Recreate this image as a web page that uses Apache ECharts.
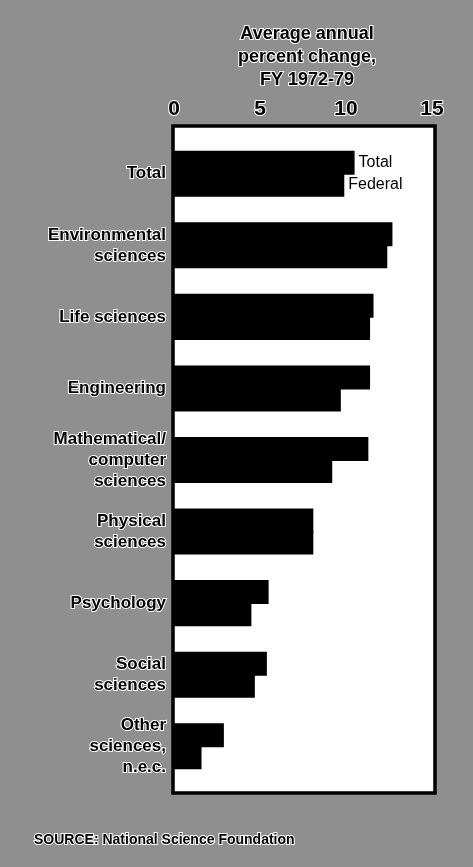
<!DOCTYPE html>
<html>
<head>
<meta charset="utf-8">
<title>R&D growth by field, FY 1972-79</title>
<script src="https://cdn.jsdelivr.net/npm/echarts@6/dist/echarts.min.js"></script>
<style>
  html, body { margin: 0; padding: 0; background: #8f8f8f; }
  #chart { width: 473px; height: 867px; }
</style>
</head>
<body>
<div id="chart"></div>
<script>
// 各领域 1972-79 年均变化率（%）
const fields = [
  'Total',
  'Environmental\nsciences',
  'Life sciences',
  'Engineering',
  'Mathematical/\ncomputer\nsciences',
  'Physical\nsciences',
  'Psychology',
  'Social\nsciences',
  'Other\nsciences,\nn.e.c.'
];
const totalChange = [10.5, 12.7, 11.6, 11.4, 11.3, 8.1, 5.5, 5.4, 2.9];
const federalChange = [9.9, 12.4, 11.4, 9.7, 9.2, 8.1, 4.5, 4.7, 1.6];
const xTicks = [0, 5, 10, 15];

const font = '"Liberation Sans", Arial, sans-serif';

const chart = echarts.init(document.getElementById('chart'));

// 只在第一组柱子旁边标注系列名
const withFirstLabel = (values) => values.map((v, i) => i === 0
  ? { value: v, label: { show: true } }
  : v);

const barSeries = (name, values) => ({
  name,
  type: 'bar',
  data: withFirstLabel(values),
  barWidth: 24,
  barGap: '-8%', // 两根柱子贴在一起，避免中间出现细缝
  z: 2,
  itemStyle: { color: '#000' },
  label: {
    show: false,
    position: 'right',
    distance: 4,
    formatter: '{a}',
    fontFamily: font,
    fontSize: 16,
    color: '#000'
  }
});

const option = {
  backgroundColor: '#8f8f8f',
  animation: false,
  textStyle: { fontFamily: font },
  title: {
    text: 'Average annual\npercent change,\nFY 1972-79',
    left: 302,
    top: 18,
    textAlign: 'center',
    textStyle: {
      fontFamily: font,
      fontSize: 18,
      fontWeight: 900,
      lineHeight: 23,
      color: '#000',
      textBorderColor: '#fff',
      textBorderWidth: 2
    }
  },
  graphic: [
    {
      type: 'rect',
      z: 0,
      shape: { x: 173, y: 126, width: 262, height: 667 },
      style: { fill: '#fff', stroke: '#000', lineWidth: 3.5 }
    },
    {
      type: 'text',
      left: 33,
      top: 832,
      style: {
        text: 'SOURCE: National Science Foundation',
        font: '900 14px ' + font,
        fill: '#000',
        stroke: '#fff',
        lineWidth: 2
      }
    }
  ],
  grid: {
    left: 174,
    width: 258,
    top: 138,
    bottom: 85,
    containLabel: false
  },
  xAxis: {
    type: 'value',
    position: 'top',
    min: 0,
    max: 15,
    interval: 5,
    axisLine: { show: false },
    axisTick: { show: false },
    splitLine: { show: false },
    axisLabel: {
      margin: 18,
      fontFamily: font,
      fontSize: 21,
      fontWeight: 'bold',
      color: '#000',
      textBorderColor: '#fff',
      textBorderWidth: 2,
      formatter: (v) => (xTicks.includes(v) ? String(v) : '')
    }
  },
  yAxis: {
    type: 'category',
    data: fields,
    inverse: true,
    axisLine: { show: false },
    axisTick: { show: false },
    axisLabel: {
      margin: 8,
      fontFamily: font,
      fontSize: 17,
      fontWeight: 'bold',
      lineHeight: 21,
      align: 'right',
      color: '#000',
      textBorderColor: '#fff',
      textBorderWidth: 2
    }
  },
  series: [
    barSeries('Total', totalChange),
    barSeries('Federal', federalChange)
  ]
};

chart.setOption(option);
window.addEventListener('resize', () => chart.resize());
</script>
</body>
</html>
